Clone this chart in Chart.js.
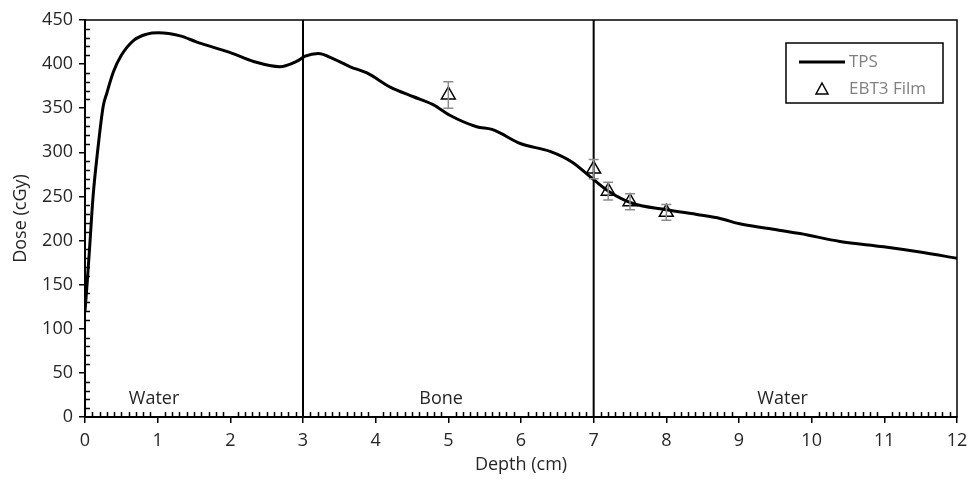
<!DOCTYPE html>
<html>
<head>
<meta charset="utf-8">
<script src="https://cdn.jsdelivr.net/npm/chart.js@4"></script>
<style>
  html, body { margin: 0; padding: 0; background: #fff; }
  #wrap { width: 979px; height: 480px; }
</style>
</head>
<body>
<div id="wrap"><canvas id="doseChart"></canvas></div>
<script>
// TPS depth-dose curve
const tpsDepth = [0, 0.03, 0.07, 0.11, 0.18, 0.25, 0.30, 0.39, 0.50, 0.67, 0.85, 1.01, 1.31, 1.54, 1.77, 2.0, 2.32, 2.68, 2.91, 3.03, 3.21, 3.42, 3.65, 3.88, 4.20, 4.52, 4.79, 5.02, 5.39, 5.60, 5.71, 5.99, 6.40, 6.70, 7.0, 7.22, 7.54, 8.0, 8.46, 8.74, 9.01, 9.38, 9.84, 10.39, 10.99, 11.49, 12.0];
const tpsDose = [120, 152, 200, 249, 306, 352, 367, 391, 410, 427, 434, 435.5, 432, 425, 419, 413, 403, 397, 403, 409, 412, 406, 397, 390, 374, 363, 354, 342, 329, 326, 322, 310, 301, 289, 269, 255, 242, 235, 229, 225, 219, 214, 208, 199, 193, 187, 180];

// film measurements
const filmDepth = [5, 7, 7.2, 7.5, 8];
const filmDose = [365, 281, 256, 244, 232];
const filmErr = [15, 11, 10, 9, 9];

// material boundaries and labels
const boundaries = [3, 7];
const regionNames = ["Water", "Bone", "Water"];
const regionCenters = [0.95, 4.9, 9.6];

const xTicks = [0, 1, 2, 3, 4, 5, 6, 7, 8, 9, 10, 11, 12];
const yTicks = [0, 50, 100, 150, 200, 250, 300, 350, 400, 450];

const FONT = "'Open Sans', sans-serif";
const TEXT = "#262626";

const extras = {
    id: "extras",
    beforeDatasetsDraw(chart) {
        const { ctx, chartArea: a, scales: { x, y } } = chart;
        ctx.save();
        // frame
        ctx.strokeStyle = "#000";
        ctx.lineWidth = 1.5;
        ctx.strokeRect(a.left, a.top, a.right - a.left, a.bottom - a.top);
        // minor ticks, pointing inward
        ctx.beginPath();
        for (let v = 0; v <= 120; v++) {
            if (v % 10 === 0) continue;
            const px = Math.round(x.getPixelForValue(v / 10)) + 0.5;
            ctx.moveTo(px, a.bottom);
            ctx.lineTo(px, a.bottom - 5);
        }
        for (let v = 0; v <= 450; v += 10) {
            if (v % 50 === 0) continue;
            const py = Math.round(y.getPixelForValue(v)) + 0.5;
            ctx.moveTo(a.left, py);
            ctx.lineTo(a.left + 5, py);
        }
        ctx.stroke();
        // region labels
        ctx.fillStyle = TEXT;
        ctx.font = "18px " + FONT;
        ctx.textAlign = "center";
        ctx.textBaseline = "middle";
        regionNames.forEach((n, i) => {
            ctx.fillText(n, x.getPixelForValue(regionCenters[i]), y.getPixelForValue(21));
        });
        ctx.restore();
    },
    afterDatasetsDraw(chart) {
        const { ctx, chartArea: a, scales: { x, y } } = chart;
        ctx.save();
        // error bars
        ctx.strokeStyle = "#8c8c8c";
        ctx.lineWidth = 1.5;
        ctx.beginPath();
        filmDepth.forEach((d, i) => {
            const px = x.getPixelForValue(d);
            const top = y.getPixelForValue(filmDose[i] + filmErr[i]);
            const bot = y.getPixelForValue(filmDose[i] - filmErr[i]);
            ctx.moveTo(px, top); ctx.lineTo(px, bot);
            ctx.moveTo(px - 5, top); ctx.lineTo(px + 5, top);
            ctx.moveTo(px - 5, bot); ctx.lineTo(px + 5, bot);
        });
        ctx.stroke();
        // legend box
        const lx = a.right - 171, ly = a.top + 23, lw = 157, lh = 60;
        ctx.fillStyle = "#fff";
        ctx.fillRect(lx, ly, lw, lh);
        ctx.strokeStyle = "#000";
        ctx.lineWidth = 1.5;
        ctx.strokeRect(lx, ly, lw, lh);
        ctx.lineWidth = 3;
        ctx.beginPath();
        ctx.moveTo(lx + 13, ly + 19);
        ctx.lineTo(lx + 59, ly + 19);
        ctx.stroke();
        // triangle marker
        const tx = lx + 36, ty = ly + 46;
        ctx.lineWidth = 1.5;
        ctx.beginPath();
        ctx.moveTo(tx, ty - 6);
        ctx.lineTo(tx + 6, ty + 5);
        ctx.lineTo(tx - 6, ty + 5);
        ctx.closePath();
        ctx.stroke();
        ctx.fillStyle = "#808080";
        ctx.font = "17px " + FONT;
        ctx.textAlign = "left";
        ctx.textBaseline = "middle";
        ctx.fillText("TPS", lx + 63, ly + 19);
        ctx.fillText("EBT3 Film", lx + 63, ly + 46);
        ctx.restore();
    }
};

const boundarySets = boundaries.map(b => ({
    type: "line",
    data: [{ x: b, y: 0 }, { x: b, y: 450 }],
    borderColor: "#000",
    borderWidth: 2,
    pointRadius: 0,
    fill: false
}));

new Chart(document.getElementById("doseChart"), {
    type: "scatter",
    data: {
        datasets: [
            {
                label: "TPS",
                type: "line",
                data: tpsDepth.map((d, i) => ({ x: d, y: tpsDose[i] })),
                borderColor: "#000",
                borderWidth: 3,
                pointRadius: 0,
                cubicInterpolationMode: "monotone",
                fill: false
            },
            {
                label: "EBT3 Film",
                data: filmDepth.map((d, i) => ({ x: d, y: filmDose[i] })),
                pointStyle: "triangle",
                pointRadius: 8,
                backgroundColor: "rgba(255,255,255,0)",
                borderColor: "#000",
                borderWidth: 1.5
            },
            ...boundarySets
        ]
    },
    options: {
        responsive: true,
        maintainAspectRatio: false,
        animation: false,
        layout: { padding: { top: 20, right: 22, left: 6, bottom: 0 } },
        plugins: {
            legend: { display: false },
            tooltip: { enabled: false }
        },
        scales: {
            x: {
                type: "linear",
                min: 0,
                max: 12,
                afterBuildTicks: s => { s.ticks = xTicks.map(v => ({ value: v })); },
                afterFit: s => { s.height = 63; },
                border: { display: true, color: "#000", width: 2 },
                grid: { drawOnChartArea: false, color: "#000", lineWidth: 1.5, tickLength: 6 },
                ticks: { color: TEXT, font: { family: FONT, size: 18 }, padding: 7 },
                title: { display: true, text: "Depth (cm)", color: TEXT, font: { family: FONT, size: 18 }, padding: { top: 0 } }
            },
            y: {
                min: 0,
                max: 450,
                afterBuildTicks: s => { s.ticks = yTicks.map(v => ({ value: v })); },
                afterFit: s => { s.width = 79; },
                border: { display: true, color: "#000", width: 2 },
                grid: { drawOnChartArea: false, color: "#000", lineWidth: 1.5, tickLength: 6 },
                ticks: { color: TEXT, font: { family: FONT, size: 18 }, padding: 6 },
                title: { display: true, text: "Dose (cGy)", color: TEXT, font: { family: FONT, size: 18 }, padding: { bottom: 2 } }
            }
        }
    },
    plugins: [extras]
});
</script>
</body>
</html>
